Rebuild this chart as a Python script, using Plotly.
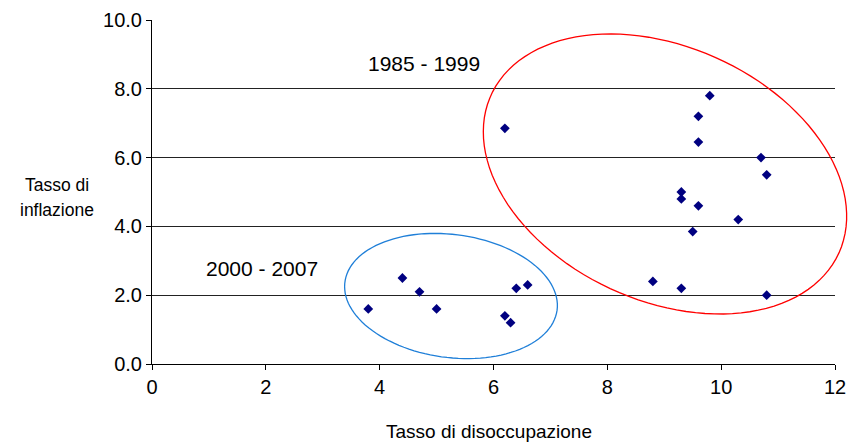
import numpy as np
import plotly.graph_objects as go

# Tasso di disoccupazione (x) e tasso di inflazione (y)
unemployment = [6.2, 9.8, 9.6, 9.6, 10.7, 10.8, 9.3, 9.3, 9.6, 10.3, 9.5, 8.8, 9.3, 10.8,
                3.8, 4.4, 4.7, 5.0, 6.2, 6.3, 6.4, 6.6]
inflation = [6.85, 7.8, 7.2, 6.45, 6.0, 5.5, 5.0, 4.8, 4.6, 4.2, 3.85, 2.4, 2.2, 2.0,
             1.6, 2.5, 2.1, 1.6, 1.4, 1.2, 2.2, 2.3]

x_ticks = [0, 2, 4, 6, 8, 10, 12]
y_ticks = [0, 2, 4, 6, 8, 10]

W, H = 851, 442
L, R, T, B = 152, 16, 20, 78
PW, PH = W - L - R, H - T - B


def px_to_paper(px, py):
    return (px - L) / PW, (H - B - py) / PH


def ellipse_path(cx, cy, a, b, angle_deg, n=120):
    # ellipse given in pixels (y downward), converted to paper coords
    t = np.linspace(0, 2 * np.pi, n)
    th = np.radians(angle_deg)
    px = cx + a * np.cos(t) * np.cos(th) - b * np.sin(t) * np.sin(th)
    py = cy + a * np.cos(t) * np.sin(th) + b * np.sin(t) * np.cos(th)
    xs, ys = px_to_paper(px, py)
    pts = ["%s%.4f,%.4f" % ("M" if i == 0 else "L", x, y) for i, (x, y) in enumerate(zip(xs, ys))]
    return " ".join(pts) + " Z"


fig = go.Figure()
fig.add_trace(
    go.Scatter(
        x=unemployment,
        y=inflation,
        mode="markers",
        marker=dict(symbol="diamond", color="#000080", size=7.5),
        cliponaxis=False,
        showlegend=False,
    )
)

fig.add_shape(type="path", xref="paper", yref="paper",
              path=ellipse_path(665, 174, 191, 127, 24.4),
              line=dict(color="#ff0000", width=1.3))
fig.add_shape(type="path", xref="paper", yref="paper",
              path=ellipse_path(451, 296, 107, 61.5, 7.6),
              line=dict(color="#1f7fd8", width=1.3))

font = dict(family="Liberation Sans, Arial, sans-serif", color="black")


def label(text, px, py, size):
    x, y = px_to_paper(px, py)
    fig.add_annotation(text=text, x=x, y=y, xref="paper", yref="paper",
                       xanchor="center", yanchor="middle",
                       showarrow=False, font=dict(size=size, **font))


label("1985 - 1999", 424, 63, 21)
label("2000 - 2007", 262, 268, 21)
label("Tasso di", 57, 185, 17.5)
label("inflazione", 57, 210, 17.5)
label("Tasso di disoccupazione", 489, 431, 19)

fig.update_layout(
    width=W,
    height=H,
    margin=dict(l=L, r=R, t=T, b=B, autoexpand=False),
    plot_bgcolor="white",
    paper_bgcolor="white",
    font=dict(size=20, **font),
)
fig.update_xaxes(
    range=[0, 12], tickvals=x_ticks, showgrid=False, zeroline=False,
    showline=True, linecolor="black", linewidth=1,
    ticks="outside", ticklen=5, tickcolor="black",
)
fig.update_yaxes(
    range=[0, 10], tickvals=y_ticks, tickformat=".1f", showgrid=True,
    gridcolor="#222222", gridwidth=1, zeroline=False,
    showline=True, linecolor="black", linewidth=1,
    ticks="outside", ticklen=5, tickcolor="black",
)

fig.write_html("out.html", config={"displayModeBar": False},
               post_script="document.body.style.margin='0';")
